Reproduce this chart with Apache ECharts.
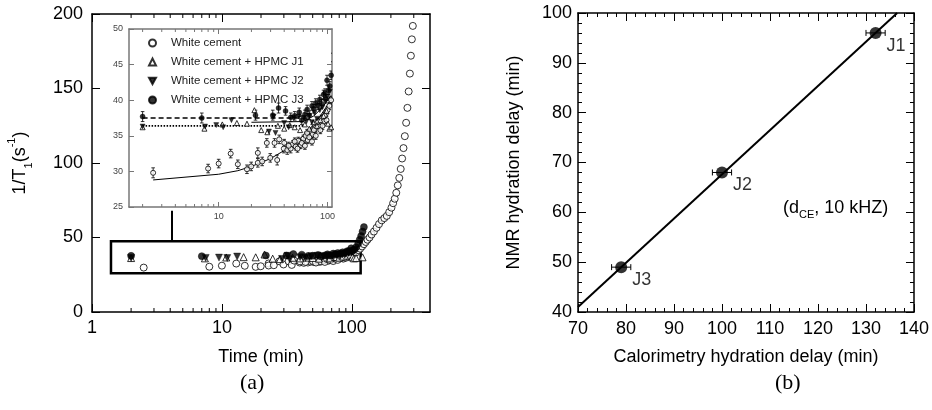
<!DOCTYPE html>
<html><head><meta charset="utf-8">
<script src="https://cdn.jsdelivr.net/npm/echarts@6/dist/echarts.min.js"></script>
<style>html,body{margin:0;padding:0;background:#fff}#c{width:932px;height:410px}</style>
</head><body><div id="c"></div>
<script>
// ---------- panel (a): 1/T1 vs time ----------
const wcTime = [2.5, 8.0, 10.0, 12.9, 15.0, 18.2, 19.9, 22.9, 22.9, 25.1, 27.7, 29.8, 32.6, 34.5, 36.0, 39.7, 42.7, 45.9, 48.0, 51.0, 54.0, 56.6, 60.0, 63.0, 66.0, 70.0, 73.0, 77.0, 80.0, 84.0, 88.0, 92.0, 96.0, 100.0, 104.0, 108.0, 40, 44, 50, 53, 58, 62, 65, 68, 72, 75, 78, 82, 86, 90, 94, 98];
const wcRate = [29.8, 30.4, 31.1, 32.5, 31.0, 30.3, 30.7, 32.6, 31.2, 31.4, 34.0, 31.9, 34.0, 31.6, 34.5, 33.2, 33.0, 33.2, 33.8, 33.5, 34.3, 33.7, 34.6, 35.0, 34.4, 35.6, 35.2, 36.1, 36.8, 36.3, 37.4, 37.0, 38.0, 38.6, 39.2, 40.0, 34.0, 33.6, 34.2, 33.2, 34.0, 33.6, 35.4, 34.8, 34.2, 35.8, 35.0, 37.0, 35.8, 36.4, 37.8, 37.2];
const wcErr = [0.7, 0.6, 0.6, 0.6, 0.6, 0.6, 0.6, 0.7, 0.6, 0.6, 0.6, 0.6, 0.6, 0.7, 0.6, 0.6, 0.6, 0.6, 0.5, 0.5, 0.5, 0.5, 0.5, 0.5, 0.5, 0.5, 0.5, 0.5, 0.5, 0.5, 0.5, 0.5, 0.5, 0.5, 0.5, 0.5, 0.5, 0.5, 0.5, 0.5, 0.5, 0.5, 0.5, 0.5, 0.5, 0.5, 0.5, 0.5, 0.5, 0.5, 0.5, 0.5];
const wcRiseTime = [112, 116, 120, 124, 128, 132, 137, 142, 148, 155, 162, 170, 178, 186, 194, 202, 208, 214, 220, 226, 232, 238, 244, 250, 256, 262, 268, 274, 280, 285, 290, 295];
const wcRiseRate = [41.5, 42.5, 44, 45.5, 47, 48.5, 50, 52, 54, 56.5, 59, 61.5, 63, 64.5, 67, 70, 73, 76, 80, 85, 90, 96, 103, 110, 118, 127, 137, 148, 160, 172, 183, 192];

const j1Time = [2.0, 7.4, 10.8, 14.7, 18.2, 21.3, 24.6, 28.0, 35.0, 40.0, 45.0, 50.0, 56.0, 62.0, 68.0, 74.0, 80.0, 86.0, 92.0, 98.0, 101.0, 104.0, 108.0, 121.0];
const j1Rate = [36.2, 36.0, 36.6, 36.8, 36.7, 38.6, 35.8, 35.5, 36.4, 36.0, 36.5, 36.2, 35.8, 36.6, 36.0, 36.9, 36.4, 37.2, 37.8, 38.5, 36.7, 36.0, 36.2, 36.7];

const j2Time = [2.0, 7.5, 9.5, 11.0, 13.1, 29.0, 32.0, 33.3, 40, 44, 48.9, 54.5, 60.7, 64, 68, 72, 76, 80, 85, 90, 95, 100, 105];
const j2Rate = [36.3, 36.3, 36.5, 36.2, 37.2, 35.6, 37.7, 35.4, 36.8, 36.2, 37.5, 37.7, 37.5, 37.0, 37.8, 36.9, 38.2, 37.4, 38.6, 39.0, 39.8, 40.5, 41.2];

const j3Time = [2.0, 7.0, 21.8, 31.4, 35.5, 41.2, 46, 50, 55, 58, 62, 65, 68, 72, 75, 78, 82, 85, 88, 92, 95, 97, 99, 102, 105, 108, 112, 115, 118, 121, 124];
const j3Rate = [37.7, 37.5, 37.9, 37.9, 38.9, 38.5, 37.6, 37.8, 38.3, 37.2, 38.0, 38.7, 37.9, 39.2, 38.8, 39.6, 39.3, 40.1, 39.5, 40.8, 41.0, 40.2, 42.8, 41.4, 42.0, 43.5, 46.0, 48.5, 51.0, 54.0, 57.0];
const j3Err = [0.7, 0.7, 0.7, 0.7, 0.7, 0.6, 0.6, 0.6, 0.6, 0.6, 0.6, 0.6, 0.6, 0.6, 0.6, 0.6, 0.6, 0.6, 0.6, 0.6, 0.6, 0.6, 0.7, 0.6, 0.6, 0.6, 0.6, 0.6, 0.6, 0.6, 0.6];

// fitted curves in the inset
const wcFitTime = [2.5, 10, 15, 20, 30, 45, 60, 80, 100, 106];
const wcFitRate = [28.8, 29.6, 30.1, 30.7, 31.8, 33.4, 35.0, 37.1, 39.3, 40.0];
const j1FitTime = [20, 60, 75, 90, 108];
const j1FitRate = [36.9, 37.0, 37.8, 39.0, 40.7];
const j2FitTime = [2, 60];
const j2FitRate = [36.4, 36.4];
const j3FitTime = [2, 66];
const j3FitRate = [37.5, 37.5];

const seriesNames = ['White cement', 'White cement + HPMC J1', 'White cement + HPMC J2', 'White cement + HPMC J3'];

// zoom box (time range, rate range) and arrow
const boxTime = [1.4, 117];
const boxRate = [26, 47.5];
const arrowTime = 4.1;
const arrowRate = [47.5, 68];

// axis ranges and tick values
const mainXRange = [1, 400];
const mainYRange = [0, 200];
const insetXRange = [1.5, 110];
const insetYRange = [25, 50];
const mainXMajor = [1, 10, 100];
const mainXMinor = [2, 3, 4, 5, 6, 7, 8, 9, 20, 30, 40, 50, 60, 70, 80, 90, 200, 300];
const insetXMajor = [10, 100];
const insetXMinor = [2, 3, 4, 5, 6, 7, 8, 9, 20, 30, 40, 50, 60, 70, 80, 90];

// ---------- panel (b): NMR vs calorimetry delay ----------
const sampleNames = ['J1', 'J2', 'J3'];
const calDelay = [132, 100, 79];
const calErr = [2, 2, 2];
const nmrDelay = [96, 68, 49];
const fitCal = [70, 136.5];
const fitNmr = [41, 100];

// ---------- build ----------
const FF = 'Liberation Sans';
const zip = (a, b) => a.map((v, i) => [v, b[i]]);
const zip3 = (a, b, c) => a.map((v, i) => [v, b[i], c[i]]);

const sym = {
  open: {symbol: 'circle', itemStyle: {color: '#fff', borderColor: '#000', borderWidth: 1}},
  tri: {symbol: 'triangle', itemStyle: {color: '#fff', borderColor: '#000', borderWidth: 1}},
  inv: {symbol: 'path://M0,0L10,0L5,9Z', itemStyle: {color: '#000', borderColor: '#000', borderWidth: 0.5}},
  fill: {symbol: 'circle', itemStyle: {color: '#000', borderColor: '#000', borderWidth: 0.5}}
};
const styles = [sym.open, sym.tri, sym.inv, sym.fill];

function logX(grid, range, pos, vals, len, color, lw, label) {
  return {
    gridIndex: grid, type: 'log', logBase: 10, min: range[0], max: range[1], position: pos,
    axisLine: {show: true, onZero: false, lineStyle: {color, width: lw}},
    axisTick: {show: true, inside: true, length: len, customValues: vals, lineStyle: {color, width: 1}},
    axisLabel: label ? Object.assign({customValues: vals, formatter: v => String(Math.round(v))}, label) : {show: false},
    splitLine: {show: false}, minorTick: {show: false}
  };
}

// minor ticks of log axes, drawn at the bottom and top edge through the axis scale
function minorTicks(xi, yi, vals, yRange, len, color) {
  return {
    type: 'custom', xAxisIndex: xi, yAxisIndex: yi, silent: true, clip: false, z: 5,
    encode: {x: 0},
    data: vals.map(v => [v]),
    renderItem: (params, api) => {
      const v = api.value(0);
      const b = api.coord([v, yRange[0]]), t = api.coord([v, yRange[1]]);
      const st = {stroke: color, lineWidth: 1};
      return {type: 'group', children: [
        {type: 'line', shape: {x1: b[0], y1: b[1], x2: b[0], y2: b[1] - len}, style: st},
        {type: 'line', shape: {x1: t[0], y1: t[1], x2: t[0], y2: t[1] + len}, style: st}
      ]};
    }
  };
}

function vErr(params, api) {
  const x = api.value(0), y = api.value(1), e = api.value(2);
  const p1 = api.coord([x, y + e]), p2 = api.coord([x, y - e]);
  const c = 1.8, st = {stroke: '#000', lineWidth: 0.8};
  return {type: 'group', children: [
    {type: 'line', shape: {x1: p1[0], y1: p1[1], x2: p2[0], y2: p2[1]}, style: st},
    {type: 'line', shape: {x1: p1[0] - c, y1: p1[1], x2: p1[0] + c, y2: p1[1]}, style: st},
    {type: 'line', shape: {x1: p2[0] - c, y1: p2[1], x2: p2[0] + c, y2: p2[1]}, style: st}
  ]};
}
function hErr(params, api) {
  const x = api.value(0), y = api.value(1), e = api.value(2);
  const p1 = api.coord([x - e, y]), p2 = api.coord([x + e, y]);
  const c = 3, st = {stroke: '#000', lineWidth: 1};
  return {type: 'group', children: [
    {type: 'line', shape: {x1: p1[0], y1: p1[1], x2: p2[0], y2: p2[1]}, style: st},
    {type: 'line', shape: {x1: p1[0], y1: p1[1] - c, x2: p1[0], y2: p1[1] + c}, style: st},
    {type: 'line', shape: {x1: p2[0], y1: p2[1] - c, x2: p2[0], y2: p2[1] + c}, style: st}
  ]};
}

const mainData = [
  zip(wcTime.concat(wcRiseTime), wcRate.concat(wcRiseRate)),
  zip(j1Time, j1Rate), zip(j2Time, j2Rate), zip(j3Time, j3Rate)
];
const insetData = [zip(wcTime, wcRate), zip(j1Time, j1Rate), zip(j2Time, j2Rate), zip(j3Time, j3Rate)];

const series = [];
// main plot scatter
seriesNames.forEach((n, i) => {
  const s = Object.assign({
    name: n, type: 'scatter', xAxisIndex: 0, yAxisIndex: 0, symbolSize: 7,
    data: mainData[i], z: 3 + i, silent: true
  }, JSON.parse(JSON.stringify(styles[i])));
  if (i === 0) {
    s.markArea = {silent: true, itemStyle: {color: 'rgba(0,0,0,0)', borderColor: '#000', borderWidth: 2.5},
      data: [[{coord: [boxTime[0], boxRate[0]]}, {coord: [boxTime[1], boxRate[1]]}]]};
    s.markLine = {silent: true, symbol: ['none', 'triangle'], symbolSize: [0, 9],
      lineStyle: {color: '#000', width: 2, type: 'solid'}, label: {show: false},
      data: [[{coord: [arrowTime, arrowRate[0]]}, {coord: [arrowTime, arrowRate[1]]}]]};
  }
  series.push(s);
});
series.push(minorTicks(0, 0, mainXMinor, mainYRange, 4, '#000'));
series.push(minorTicks(2, 2, insetXMinor, insetYRange, 3, '#777'));
// inset error bars
series.push({type: 'custom', xAxisIndex: 2, yAxisIndex: 2, renderItem: vErr, clip: true, silent: true, z: 2,
  encode: {x: 0, y: 1}, data: zip3(wcTime, wcRate, wcErr)});
series.push({type: 'custom', xAxisIndex: 2, yAxisIndex: 2, renderItem: vErr, clip: true, silent: true, z: 2,
  encode: {x: 0, y: 1}, data: zip3(j3Time, j3Rate, j3Err)});
// inset fit lines
const fitLine = (tx, ty, type, w) => ({type: 'line', xAxisIndex: 2, yAxisIndex: 2, showSymbol: false, silent: true, z: 2,
  clip: true, lineStyle: {color: '#000', width: w, type}, data: zip(tx, ty)});
series.push(fitLine(wcFitTime, wcFitRate, 'solid', 1));
series.push(fitLine(j1FitTime, j1FitRate, 'solid', 1));
series.push(fitLine(j2FitTime, j2FitRate, [1.5, 1.5], 1.6));
series.push(fitLine(j3FitTime, j3FitRate, [5, 3], 1.6));
// inset scatter
seriesNames.forEach((n, i) => {
  series.push(Object.assign({
    name: n, type: 'scatter', xAxisIndex: 2, yAxisIndex: 2, symbolSize: 5,
    data: insetData[i], z: 4 + i, silent: true, clip: true
  }, JSON.parse(JSON.stringify(styles[i]))));
});
// panel b
series.push({type: 'line', xAxisIndex: 4, yAxisIndex: 4, showSymbol: false, silent: true, clip: true,
  lineStyle: {color: '#000', width: 2}, data: zip(fitCal, fitNmr)});
series.push({type: 'custom', xAxisIndex: 4, yAxisIndex: 4, renderItem: hErr, silent: true, z: 3,
  encode: {x: 0, y: 1}, data: zip3(calDelay, nmrDelay, calErr)});
series.push({type: 'scatter', xAxisIndex: 4, yAxisIndex: 4, symbol: 'circle', symbolSize: 12, silent: true, z: 4,
  itemStyle: {color: '#000'},
  label: {show: true, position: [17, 10], formatter: p => sampleNames[p.dataIndex], fontSize: 18, color: '#000', fontFamily: FF},
  data: zip(calDelay, nmrDelay)});

const tickLbl = {fontSize: 18, color: '#000', fontFamily: FF};
const option = {
  animation: false,
  backgroundColor: '#fff',
  textStyle: {fontFamily: FF},
  grid: [
    {left: 92, top: 14, width: 338, height: 298},
    {left: 129, top: 29, width: 203, height: 178},
    {left: 578, top: 13, width: 338, height: 299}
  ],
  legend: {
    data: seriesNames, orient: 'vertical', left: 143, top: 32, itemWidth: 7, itemHeight: 7, itemGap: 7,
    selectedMode: false, textStyle: {fontSize: 11.5, color: '#222', fontFamily: FF, padding: [0, 0, 0, 10]}
  },
  xAxis: [
    Object.assign(logX(0, mainXRange, 'bottom', mainXMajor, 8, '#000', 1.5, Object.assign({margin: 7}, tickLbl)),
      {name: 'Time (min)', nameLocation: 'middle', nameGap: 36, nameTextStyle: {fontSize: 18, color: '#000', fontFamily: FF}}),
    logX(0, mainXRange, 'top', mainXMajor, 8, '#000', 1.5, null),
    logX(1, insetXRange, 'bottom', insetXMajor, 5, '#777', 1.5, {margin: 5, fontSize: 9, color: '#444', fontFamily: FF}),
    logX(1, insetXRange, 'top', insetXMajor, 5, '#777', 1.5, null),
    {gridIndex: 2, type: 'value', min: 70, max: 140, interval: 10, position: 'bottom',
      axisLine: {show: true, onZero: false, lineStyle: {color: '#000', width: 1.5}},
      axisTick: {inside: true, length: 8, lineStyle: {color: '#000'}},
      minorTick: {show: true, splitNumber: 5, length: 4, lineStyle: {color: '#000'}},
      axisLabel: Object.assign({margin: 8}, tickLbl), splitLine: {show: false},
      name: 'Calorimetry hydration delay (min)', nameLocation: 'middle', nameGap: 36,
      nameTextStyle: {fontSize: 18, color: '#000', fontFamily: FF}},
    {gridIndex: 2, type: 'value', min: 70, max: 140, interval: 10, position: 'top',
      axisLine: {show: true, onZero: false, lineStyle: {color: '#000', width: 1.5}},
      axisTick: {inside: true, length: 8, lineStyle: {color: '#000'}},
      minorTick: {show: true, splitNumber: 5, length: 4, lineStyle: {color: '#000'}},
      axisLabel: {show: false}, splitLine: {show: false}}
  ],
  yAxis: [
    {gridIndex: 0, type: 'value', min: mainYRange[0], max: mainYRange[1], interval: 50, position: 'left',
      axisLine: {show: true, onZero: false, lineStyle: {color: '#000', width: 1.5}},
      axisTick: {inside: true, length: 8, lineStyle: {color: '#000'}},
      axisLabel: Object.assign({margin: 9}, tickLbl), splitLine: {show: false},
      name: '{n|1/T}{s|1}{n|(s}{p|-1}{n|)}', nameLocation: 'middle', nameGap: 58, nameRotate: 90,
      nameTextStyle: {fontSize: 18, color: '#000', fontFamily: FF,
        rich: {n: {fontSize: 18, lineHeight: 28, verticalAlign: 'middle', fontFamily: FF},
               s: {fontSize: 11, lineHeight: 11, verticalAlign: 'bottom', fontFamily: FF},
               p: {fontSize: 11, lineHeight: 11, verticalAlign: 'top', fontFamily: FF}}}},
    {gridIndex: 0, type: 'value', min: mainYRange[0], max: mainYRange[1], interval: 50, position: 'right',
      axisLine: {show: true, onZero: false, lineStyle: {color: '#000', width: 1.5}},
      axisTick: {inside: true, length: 8, lineStyle: {color: '#000'}},
      axisLabel: {show: false}, splitLine: {show: false}},
    {gridIndex: 1, type: 'value', min: insetYRange[0], max: insetYRange[1], interval: 5, position: 'left',
      axisLine: {show: true, onZero: false, lineStyle: {color: '#777', width: 1.5}},
      axisTick: {inside: true, length: 5, lineStyle: {color: '#777'}},
      axisLabel: {margin: 6, fontSize: 9, color: '#444', fontFamily: FF}, splitLine: {show: false}},
    {gridIndex: 1, type: 'value', min: insetYRange[0], max: insetYRange[1], interval: 5, position: 'right',
      axisLine: {show: true, onZero: false, lineStyle: {color: '#777', width: 1.5}},
      axisTick: {inside: true, length: 5, lineStyle: {color: '#777'}},
      axisLabel: {show: false}, splitLine: {show: false}},
    {gridIndex: 2, type: 'value', min: 40, max: 100, interval: 10, position: 'left',
      axisLine: {show: true, onZero: false, lineStyle: {color: '#000', width: 1.5}},
      axisTick: {inside: true, length: 8, lineStyle: {color: '#000'}},
      minorTick: {show: true, splitNumber: 5, length: 4, lineStyle: {color: '#000'}},
      axisLabel: Object.assign({margin: 6}, tickLbl), splitLine: {show: false},
      name: 'NMR hydration delay (min)', nameLocation: 'middle', nameGap: 55, nameRotate: 90,
      nameTextStyle: {fontSize: 18, color: '#000', fontFamily: FF}},
    {gridIndex: 2, type: 'value', min: 40, max: 100, interval: 10, position: 'right',
      axisLine: {show: true, onZero: false, lineStyle: {color: '#000', width: 1.5}},
      axisTick: {inside: true, length: 8, lineStyle: {color: '#000'}},
      minorTick: {show: true, splitNumber: 5, length: 4, lineStyle: {color: '#000'}},
      axisLabel: {show: false}, splitLine: {show: false}}
  ],
  graphic: [
    {type: 'text', left: 783, top: 199, style: {
      text: '{n|(d}{s|CE}{n|, 10 kHZ)}', fill: '#000',
      rich: {n: {fontSize: 18, lineHeight: 24, verticalAlign: 'middle', fontFamily: FF, fill: '#000'},
             s: {fontSize: 11, lineHeight: 11, verticalAlign: 'bottom', fontFamily: FF, fill: '#000'}}}},
    {type: 'text', left: 240, top: 372, style: {text: '(a)', fontSize: 22, fontFamily: 'Liberation Serif', fill: '#000'}},
    {type: 'text', left: 775, top: 372, style: {text: '(b)', fontSize: 22, fontFamily: 'Liberation Serif', fill: '#000'}}
  ],
  series
};
const chart = echarts.init(document.getElementById('c'));
chart.setOption(option);
</script></body></html>
